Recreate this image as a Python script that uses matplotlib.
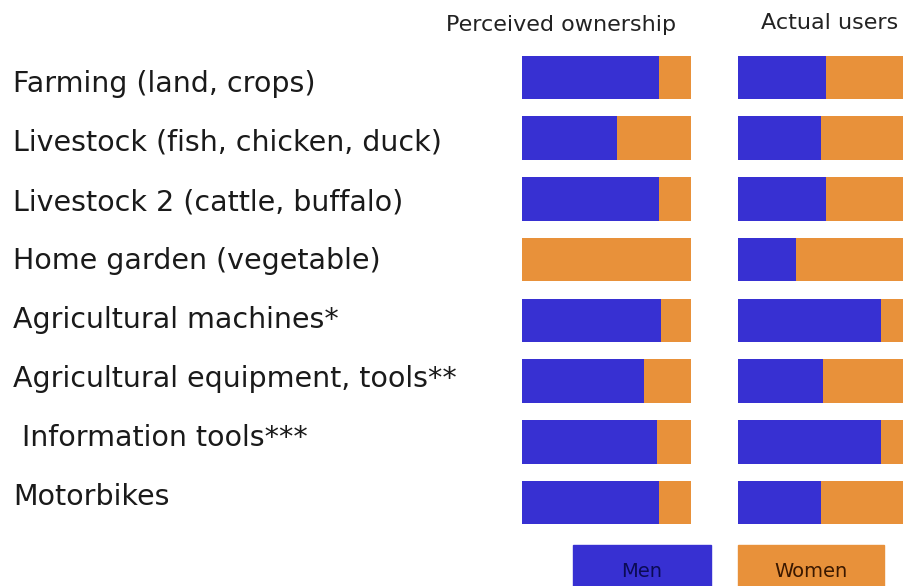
import matplotlib.pyplot as plt
from matplotlib.patches import Rectangle

categories = [
    "Farming (land, crops)",
    "Livestock (fish, chicken, duck)",
    "Livestock 2 (cattle, buffalo)",
    "Home garden (vegetable)",
    "Agricultural machines*",
    "Agricultural equipment, tools**",
    " Information tools***",
    "Motorbikes",
]
# share of men (%) per category; women make up the rest
owners_men = [81, 56, 81, 0, 82, 72, 80, 81]
users_men = [52, 49, 52, 34, 84, 50, 84, 49]
panel_titles = ["Perceived ownership", "Actual users"]
legend_labels = ["Men", "Women"]

BLUE = "#3730D2"
ORANGE = "#E8913A"
W, H = 904, 586

plt.rcParams["font.family"] = ["DejaVu Sans"]
fig = plt.figure(figsize=(W / 100, H / 100), dpi=100)


def px_axes(x0, x1, y0, y1):
    return fig.add_axes([x0 / W, 1 - y1 / H, (x1 - x0) / W, (y1 - y0) / H])


n = len(categories)
rows = list(range(n))

for (x0, x1), men, title, tx, ty in zip(
    [(522, 691), (738, 908)], [owners_men, users_men], panel_titles,
    [561, 830], [31, 29]
):
    ax = px_axes(x0, x1, 47, 533)
    women = [100 - m for m in men]
    ax.barh(rows, men, height=0.72, color=BLUE)
    ax.barh(rows, women, left=men, height=0.72, color=ORANGE)
    ax.set_xlim(0, 100)
    ax.set_ylim(n - 0.5, -0.5)
    ax.axis("off")
    fig.text(tx / W, 1 - ty / H, title, ha="center", va="baseline",
             fontsize=16, color="#222222")

# category labels down the left side
lab_ax = px_axes(0, 500, 62.5, 534.5)
lab_ax.set_xlim(0, 1)
lab_ax.set_ylim(n - 0.5, -0.5)
lab_ax.axis("off")
for i, name in enumerate(categories):
    lab_ax.text(13 / 500, i, name, ha="left", va="baseline",
                fontsize=20.5, color="#1a1a1a")

# legend boxes at the bottom
for (x0, x1), lbl, col, tcol in zip(
    [(573, 711), (738, 884)], legend_labels, [BLUE, ORANGE], ["#0b0b55", "#3a1800"]
):
    fig.patches.append(Rectangle((x0 / W, 0), (x1 - x0) / W, 41 / H,
                                 transform=fig.transFigure, color=col))
    fig.text((x0 + x1) / 2 / W, 9 / H, lbl, ha="center", va="baseline",
             fontsize=14, color=tcol)

fig.savefig("out.png", dpi=100)
